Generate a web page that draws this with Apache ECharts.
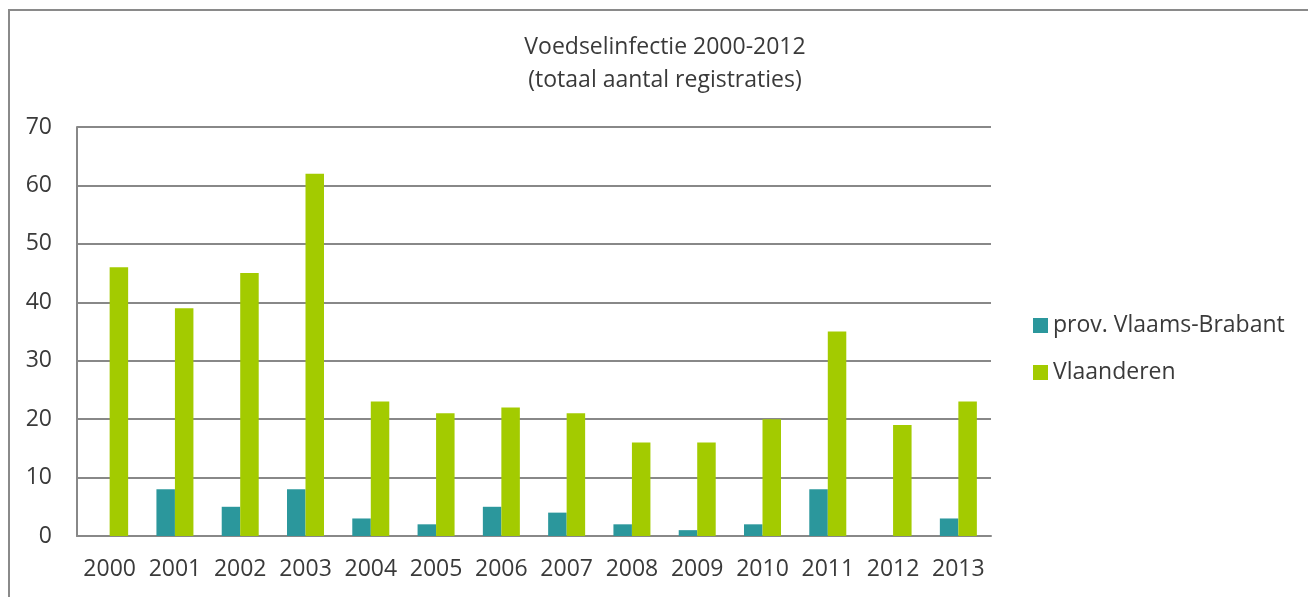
<!DOCTYPE html>
<html>
<head>
<meta charset="utf-8">
<script src="https://cdn.jsdelivr.net/npm/echarts@6/dist/echarts.min.js"></script>
<style>
  html, body { margin: 0; padding: 0; background: #fff; }
  #frame { position: absolute; left: 8px; top: 9px; width: 1320px; height: 620px;
           border-left: 2px solid #8a8a8a; border-top: 2px solid #8a8a8a; }
  #chart { position: absolute; left: 0; top: 0; width: 1308px; height: 597px; }
</style>
</head>
<body>
<div id="frame"></div>
<div id="chart"></div>
<script>
// jaren en registraties
var years = ['2000', '2001', '2002', '2003', '2004', '2005', '2006', '2007', '2008', '2009', '2010', '2011', '2012', '2013'];
var vlaamsBrabant = [0, 8, 5, 8, 3, 2, 5, 4, 2, 1, 2, 8, 0, 3];
var vlaanderen = [46, 39, 45, 62, 23, 21, 22, 21, 16, 16, 20, 35, 19, 23];
var seriesNames = ['prov. Vlaams-Brabant', 'Vlaanderen'];
var yTicks = [0, 10, 20, 30, 40, 50, 60, 70];

var font = '"Open Sans", "Noto Sans", sans-serif';
var textColor = '#3a3a3a';
var gridColor = '#888888';

var myChart = echarts.init(document.getElementById('chart'));
var option = {
  animation: false,
  textStyle: { fontFamily: font },
  title: {
    text: 'Voedselinfectie 2000-2012\n(totaal aantal registraties)',
    left: 660,
    textAlign: 'center',
    top: 26,
    textStyle: { fontFamily: font, fontWeight: 'normal', fontSize: 23, color: textColor, lineHeight: 33 }
  },
  legend: {
    orient: 'vertical',
    left: 1028,
    top: 309,
    itemWidth: 15,
    itemHeight: 15,
    itemGap: 24,
    icon: 'rect',
    data: seriesNames,
    textStyle: { fontFamily: font, fontSize: 23, lineHeight: 23, color: textColor }
  },
  grid: { left: 77, right: 317, top: 127, bottom: 61 },
  xAxis: {
    type: 'category',
    data: years,
    axisLine: { lineStyle: { color: gridColor, width: 2 } },
    axisTick: { show: false },
    axisLabel: { interval: 0, fontFamily: font, fontSize: 23, color: textColor, margin: 22 }
  },
  yAxis: {
    type: 'value',
    min: yTicks[0],
    max: yTicks[yTicks.length - 1],
    interval: 10,
    axisLine: { show: true, lineStyle: { color: gridColor, width: 2 } },
    axisTick: { show: false },
    axisLabel: { fontFamily: font, fontSize: 23, color: textColor, margin: 25 },
    splitLine: { lineStyle: { color: gridColor, width: 2 } }
  },
  series: [
    {
      name: seriesNames[0],
      type: 'bar',
      data: vlaamsBrabant,
      barWidth: 18.5,
      barGap: '0%',
      itemStyle: { color: '#2b979c' }
    },
    {
      name: seriesNames[1],
      type: 'bar',
      data: vlaanderen,
      barWidth: 18.5,
      itemStyle: { color: '#a3cb00' }
    }
  ]
};
myChart.setOption(option);
</script>
</body>
</html>
